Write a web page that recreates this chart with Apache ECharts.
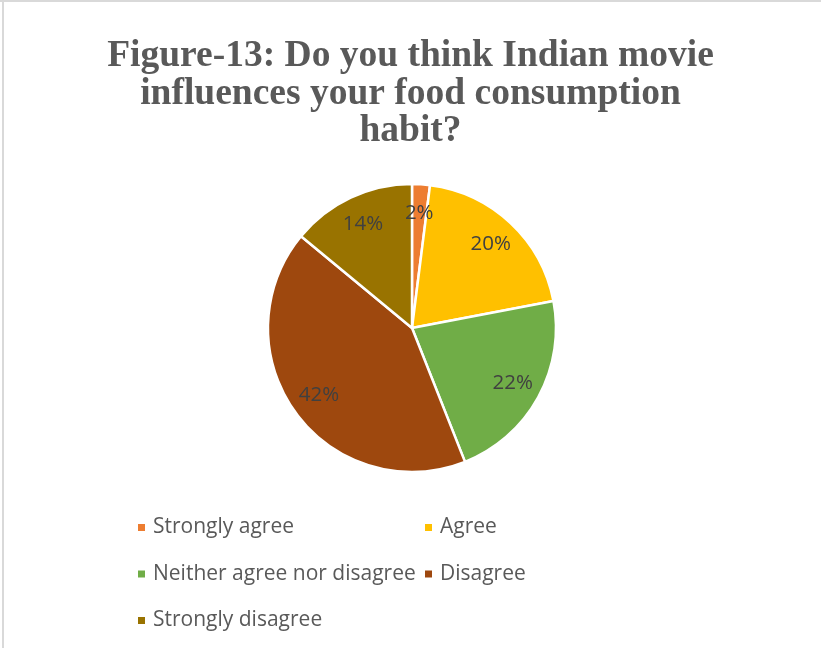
<!DOCTYPE html>
<html><head><meta charset="utf-8">
<script src="https://cdn.jsdelivr.net/npm/echarts@6/dist/echarts.min.js"></script>
<style>html,body{margin:0;padding:0;background:#fff}#c{width:821px;height:648px}</style>
</head><body><div id="c"></div>
<script>
const categories = ['Strongly agree','Agree','Neither agree nor disagree','Disagree','Strongly disagree'];
const values = [2, 20, 22, 42, 14];
const colors = ['#ED7D31','#FFC000','#70AD47','#9E480E','#997300'];
const titleLines = ['Figure-13: Do you think Indian movie','influences your food consumption','habit?'];

const data = categories.map((n,i)=>({name:n, value:values[i], itemStyle:{color:colors[i]}}));
const chart = echarts.init(document.getElementById('c'));
const legendText = {color:'#595959', fontFamily:'Open Sans', fontSize:21, lineHeight:20, padding:[0,0,0,2]};
chart.setOption({
  backgroundColor:'#fff',
  animation:false,
  title:{text:titleLines.join('\n'), left:'center', top:33,
    textStyle:{fontFamily:'Liberation Serif', fontWeight:'bold', fontSize:37.5, lineHeight:37.5, color:'#595959'}},
  legend:[
    {orient:'vertical', left:131, top:512, itemWidth:9, itemHeight:9, itemGap:25.5, icon:'rect',
     data:[categories[0],categories[2],categories[4]], textStyle:legendText, selectedMode:false},
    {orient:'vertical', left:418, top:512, itemWidth:9, itemHeight:9, itemGap:25.5, icon:'rect',
     data:[categories[1],categories[3]], textStyle:legendText, selectedMode:false}
  ],
  graphic:[
    {type:'rect', shape:{x:0,y:0,width:821,height:2}, style:{fill:'#d9d9d9'}, silent:true},
    {type:'rect', shape:{x:2,y:0,width:2,height:648}, style:{fill:'#d9d9d9'}, silent:true}
  ],
  series:[
    {type:'pie', center:[412,328], radius:[0,144], startAngle:90, clockwise:true,
     data:data, label:{show:false}, labelLine:{show:false},
     itemStyle:{borderColor:'#fff', borderWidth:2.5}, emphasis:{disabled:true}},
    {type:'pie', center:[412,328], radius:[80,144], startAngle:90, clockwise:true, silent:true,
     legendHoverLink:false,
     data:categories.map((n,i)=>({name:n, value:values[i]})),
     itemStyle:{color:'rgba(0,0,0,0)', borderWidth:0},
     label:{show:true, position:'inside', formatter:'{c}%', color:'#404040', fontFamily:'Open Sans', fontSize:20.5},
     labelLine:{show:false}, emphasis:{disabled:true}}
  ]
});
</script></body></html>
